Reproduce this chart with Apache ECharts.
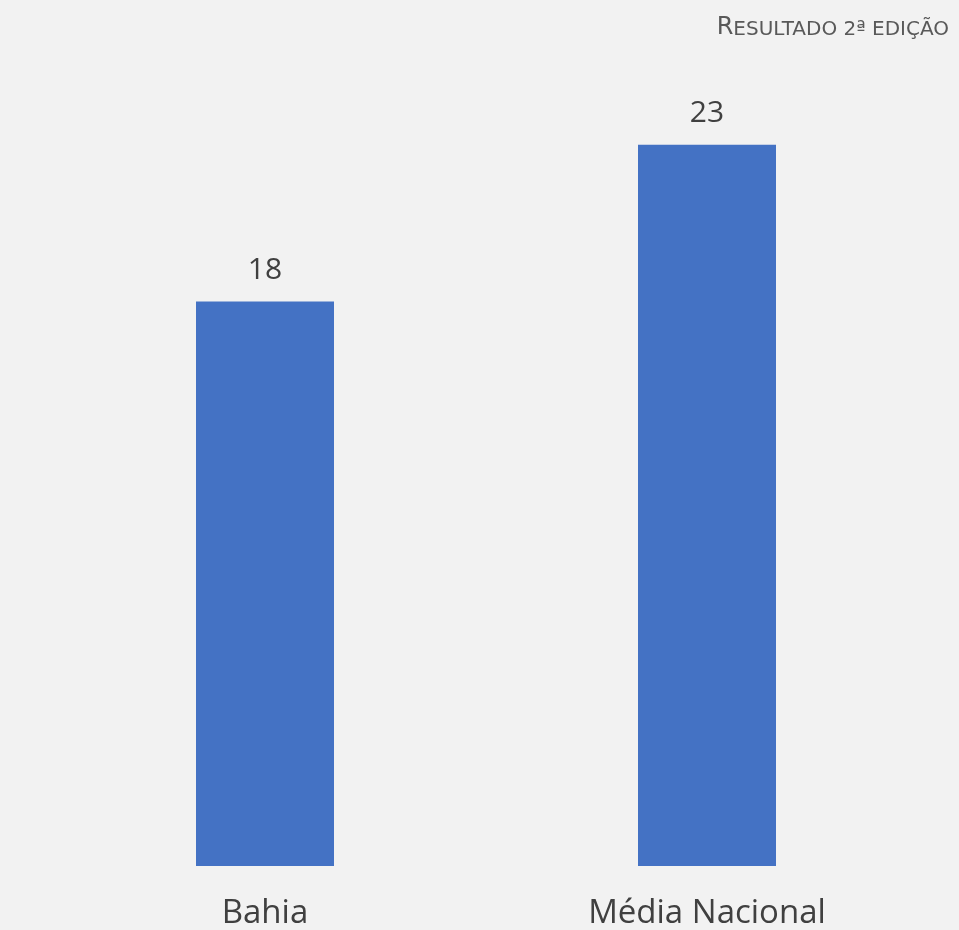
<!DOCTYPE html>
<html>
<head>
<meta charset="utf-8">
<script src="https://cdn.jsdelivr.net/npm/echarts@6/dist/echarts.min.js"></script>
<style>
  html, body { margin: 0; padding: 0; background: #f2f2f2; }
  #chart { width: 959px; height: 930px; }
</style>
</head>
<body>
<div id="chart"></div>
<script>
  // dados do gráfico
  const categories = ['Bahia', 'Média Nacional'];
  const values = [18, 23];

  const chart = echarts.init(document.getElementById('chart'));

  const option = {
    backgroundColor: '#f2f2f2',
    title: {
      text: '{a|R}{b|ESULTADO 2ª EDIÇÃO}',
      right: 5,
      top: 11,
      textStyle: {
        fontWeight: 'normal',
        rich: {
          a: { fontFamily: 'DejaVu Sans', fontSize: 24, fontWeight: 'normal', color: '#595959', verticalAlign: 'bottom' },
          b: { fontFamily: 'DejaVu Sans', fontSize: 20, fontWeight: 'normal', color: '#595959', verticalAlign: 'bottom' },
        },
      },
    },
    grid: {
      left: 44,
      right: 31,
      top: 82,
      bottom: 64,
    },
    xAxis: {
      type: 'category',
      data: categories,
      axisLine: { show: false },
      axisTick: { show: false },
      axisLabel: {
        fontFamily: 'Open Sans',
        fontSize: 33,
        color: '#404040',
        margin: 31,
      },
    },
    yAxis: {
      type: 'value',
      min: 0,
      max: 25,
      show: false,
      splitLine: { show: false },
    },
    series: [
      {
        type: 'bar',
        data: values,
        barWidth: 138,
        itemStyle: { color: '#4472c4' },
        label: {
          show: true,
          position: 'top',
          distance: 16,
          fontFamily: 'Open Sans',
          fontSize: 30,
          color: '#404040',
        },
      },
    ],
  };

  chart.setOption(option);
  window.addEventListener('resize', chart.resize);
</script>
</body>
</html>
